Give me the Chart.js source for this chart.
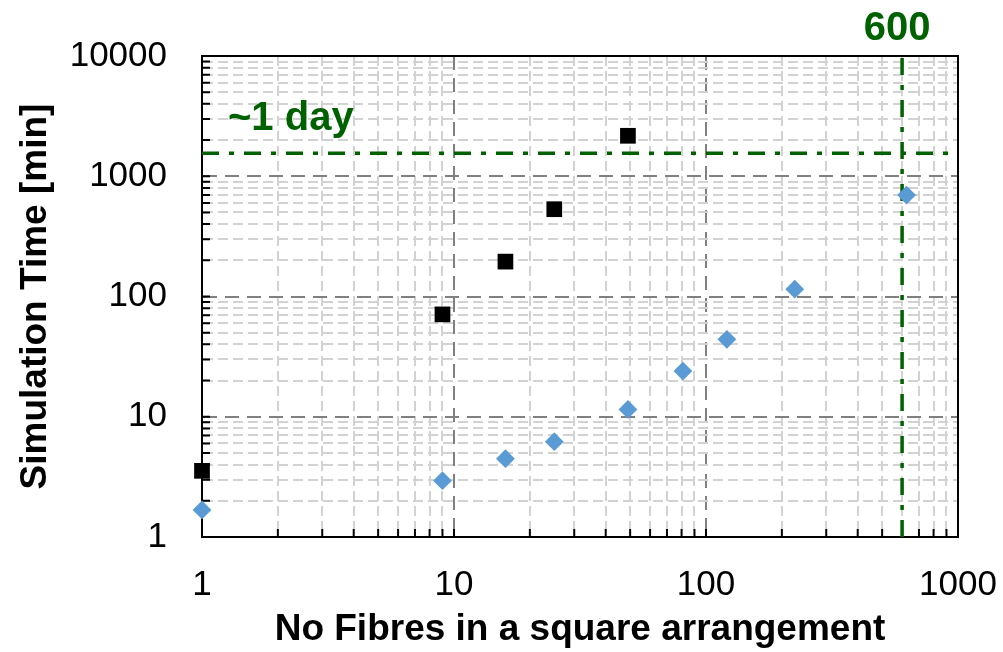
<!DOCTYPE html>
<html>
<head>
<meta charset="utf-8">
<script src="https://cdn.jsdelivr.net/npm/chart.js@4.4.1/dist/chart.umd.min.js"></script>
<style>
  html, body { margin: 0; padding: 0; background: #fff; }
</style>
</head>
<body>
<canvas id="myChart" width="1003" height="652"></canvas>
<script>
// data
const fibresBlack = [1, 9, 16, 25, 49];
const timeBlack = [3.55, 71, 195, 532, 2170];
const fibresBlue = [1, 9, 16, 25, 49, 81, 121, 225, 625];
const timeBlue = [1.68, 2.94, 4.48, 6.2, 11.5, 24, 44, 115, 698];
const xTickLabels = [1, 10, 100, 1000];
const yTickLabels = [1, 10, 100, 1000, 10000];
const dayLimit = 1550;     // "~1 day" line
const fibreLimit = 600;    // "600" line

const GREEN = '#006100';
const FONT = '"Liberation Sans", Arial, sans-serif';

// 1..9 per decade between the labelled ticks
const decadeTicks = (labels) => {
  const out = [];
  labels.forEach((v, i) => {
    out.push(v);
    if (i < labels.length - 1) {
      for (let k = 2; k < 10; k++) out.push(v * k);
    }
  });
  return out;
};

const isMajor = (v) => Math.abs(Math.log10(v) - Math.round(Math.log10(v))) < 1e-9;

const gridStyle = {
  color: (c) => (c.tick && isMajor(c.tick.value) ? '#808080' : '#d2d2d2'),
  lineWidth: 2,
  drawTicks: false,
};
const borderStyle = {
  color: '#000',
  width: 2,
  dash: (c) => (c.tick && isMajor(c.tick.value) ? [14, 8] : [10, 5]),
};

const frameAndTicks = {
  id: 'frameAndTicks',
  beforeDatasetsDraw(chart) {
    const { ctx, chartArea: a, scales: { x, y } } = chart;
    ctx.save();
    ctx.strokeStyle = '#000';
    ctx.lineWidth = 2;
    ctx.beginPath();
    // inward ticks
    x.ticks.forEach((t) => {
      const px = x.getPixelForValue(t.value);
      ctx.moveTo(px, a.bottom);
      ctx.lineTo(px, a.bottom - 8);
    });
    y.ticks.forEach((t) => {
      const py = y.getPixelForValue(t.value);
      ctx.moveTo(a.left, py);
      ctx.lineTo(a.left + 8, py);
    });
    // top and right border
    ctx.moveTo(a.left, a.top);
    ctx.lineTo(a.right, a.top);
    ctx.lineTo(a.right, a.bottom);
    ctx.stroke();
    ctx.restore();
  },
  afterDraw(chart) {
    const { ctx, chartArea: a, scales: { x, y } } = chart;
    ctx.save();
    ctx.fillStyle = GREEN;
    ctx.font = 'bold 40px ' + FONT;
    ctx.textBaseline = 'alphabetic';
    ctx.textAlign = 'center';
    ctx.fillText('600', x.getPixelForValue(fibreLimit) - 5, 40);
    ctx.textAlign = 'left';
    ctx.fillText('~1 day', a.left + 26, y.getPixelForValue(dayLimit) - 23);
    ctx.restore();
  },
};

new Chart(document.getElementById('myChart'), {
  type: 'scatter',
  data: {
    datasets: [
      {
        data: fibresBlue.map((v, i) => ({ x: v, y: timeBlue[i] })),
        pointStyle: 'rectRot',
        pointRadius: 9.4,
        pointBackgroundColor: '#5b9bd5',
        pointBorderWidth: 0,
        clip: false,
      },
      {
        data: fibresBlack.map((v, i) => ({ x: v, y: timeBlack[i] })),
        pointStyle: 'rect',
        pointRadius: 11.1,
        pointBackgroundColor: '#000',
        pointBorderWidth: 0,
        clip: false,
      },
      {
        data: [{ x: xTickLabels[0], y: dayLimit }, { x: xTickLabels[xTickLabels.length - 1], y: dayLimit }],
        showLine: true,
        pointRadius: 0,
        borderColor: GREEN,
        borderWidth: 3.5,
        borderDash: [17, 10, 5, 10],
      },
      {
        data: [{ x: fibreLimit, y: yTickLabels[0] }, { x: fibreLimit, y: yTickLabels[yTickLabels.length - 1] }],
        showLine: true,
        pointRadius: 0,
        borderColor: GREEN,
        borderWidth: 3.5,
        borderDash: [17, 10, 5, 10],
      },
    ],
  },
  options: {
    responsive: false,
    animation: false,
    devicePixelRatio: 1,
    layout: { padding: { left: 0, top: 56, right: 45, bottom: 0 } },
    plugins: { legend: { display: false }, tooltip: { enabled: false } },
    scales: {
      x: {
        type: 'logarithmic',
        min: 1,
        max: 1000,
        afterBuildTicks: (s) => { s.ticks = decadeTicks(xTickLabels).map((v) => ({ value: v })); },
        afterFit: (s) => { s.height = 115; s.paddingLeft = 0; s.paddingRight = 0; },
        grid: gridStyle,
        border: borderStyle,
        ticks: {
          autoSkip: false,
          maxRotation: 0,
          padding: 27,
          color: '#000',
          font: { family: FONT, size: 35 },
          callback: (v) => (xTickLabels.includes(v) ? String(v) : ''),
        },
        title: {
          display: true,
          text: 'No Fibres in a square arrangement',
          color: '#000',
          font: { family: FONT, size: 37, weight: 'bold' },
          padding: { top: 0, bottom: 0 },
        },
      },
      y: {
        type: 'logarithmic',
        min: 1,
        max: 10000,
        afterBuildTicks: (s) => { s.ticks = decadeTicks(yTickLabels).map((v) => ({ value: v })); },
        afterFit: (s) => { s.width = 202; s.paddingTop = 0; s.paddingBottom = 0; },
        grid: gridStyle,
        border: borderStyle,
        ticks: {
          autoSkip: false,
          padding: 35,
          color: '#000',
          font: { family: FONT, size: 35 },
          callback: (v) => (yTickLabels.includes(v) ? String(v) : ''),
        },
        title: {
          display: true,
          text: 'Simulation Time [min]',
          color: '#000',
          font: { family: FONT, size: 37, weight: 'bold' },
          padding: { top: 14, bottom: 0 },
        },
      },
    },
  },
  plugins: [frameAndTicks],
});
</script>
</body>
</html>
